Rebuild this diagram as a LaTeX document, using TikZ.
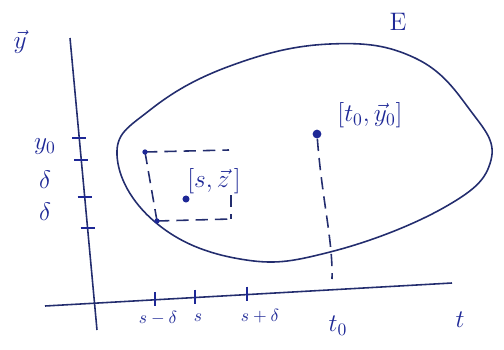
\documentclass[tikz,border=0pt]{standalone}
\usepackage{amsmath}
\usepackage{xcolor}
\usepackage{tikz}
\usetikzlibrary{calc,positioning}

\definecolor{ink}{RGB}{30,40,150}
\definecolor{pen}{RGB}{35,45,110}

\begin{document}
\begin{tikzpicture}[
  x=0.02cm, y=-0.02cm,
  axis/.style={draw=pen, line width=0.9pt},
  tick/.style={draw=ink, line width=1.1pt},
  lbl/.style={text=ink, font=\Large, inner sep=1pt},
  dashln/.style={draw=pen, line width=0.9pt, dash pattern=on 7pt off 4pt},
  dot/.style={circle, fill=ink, inner sep=0pt, minimum size=4pt}
]
\useasboundingbox (0,0) rectangle (504,349);
% axes
\coordinate (yb) at (97,330);
\coordinate (yt) at (70,38);
\coordinate (tl) at (45,306);
\coordinate (tr) at (452,283);
\draw[axis] (yb) -- (yt);
\draw[axis] (tl) -- (tr);
\foreach \ty in {138,160,197,228}
  \draw[tick] ({70+27*(\ty-38)/292-7},\ty) -- ++(14,0);
\foreach \tx in {155,195,247}
  \draw[tick] (\tx,{306-23*(\tx-45)/407-8}) -- ++(0,14);
\node[lbl] (ylab) at (20,42) {$\vec{y}$};
\node[lbl] (y0) at (45,147) {$y_0$};
\node[lbl] (d1) at (45,180) {$\delta$};
\node[lbl] (d2) at (45,212) {$\delta$};
\node[lbl, font=\normalsize] (smd) at (158,318) {$s-\delta$};
\node[lbl, font=\normalsize] (s) at (198,318) {$s$};
\node[lbl, font=\normalsize] (spd) at (260,316) {$s+\delta$};
\node[lbl] (t0) at (338,326) {$t_0$};
\node[lbl] (t) at (460,320) {$t$};
% the set E
\draw[pen, line width=0.9pt] plot[smooth cycle, tension=0.7] coordinates {
  (117,155) (150,110) (230,66) (330,44) (415,58) (470,110) (491,160)
  (445,207) (330,252) (240,259) (155,222)};
\node[lbl] (E) at (398,22) {E};
% box round [s,z]
\coordinate (bl) at (157,221);
\coordinate (tlb) at (145,152);
\coordinate (tr2) at (229,150);
\coordinate (br) at (231,219);
\draw[dashln] (tlb) -- (tr2);
\draw[dashln] (tlb) -- (bl);
\draw[dashln] (bl) -- (br);
\draw[dashln] ($(br)+(0,-24)$) -- (br);
\node[dot, minimum size=3pt] (pbl) at (bl) {};
\node[dot, minimum size=3pt] (ptl) at (tlb) {};
\node[dot] (sz) at (186,199) {};
\node[lbl] (szlab) at (214,181) {$[s,\vec{z}\,]$};
% the point [t0,y0]
\node[dot, minimum size=5pt] (p0) at (317,134) {};
\node[lbl] (p0lab) at (370,115) {$[t_0,\vec{y}_0]$};
\coordinate (foot) at (332,279);
\draw[dashln] (p0) .. controls (322,200) and (333,240) .. (foot);
\end{tikzpicture}
\end{document}
